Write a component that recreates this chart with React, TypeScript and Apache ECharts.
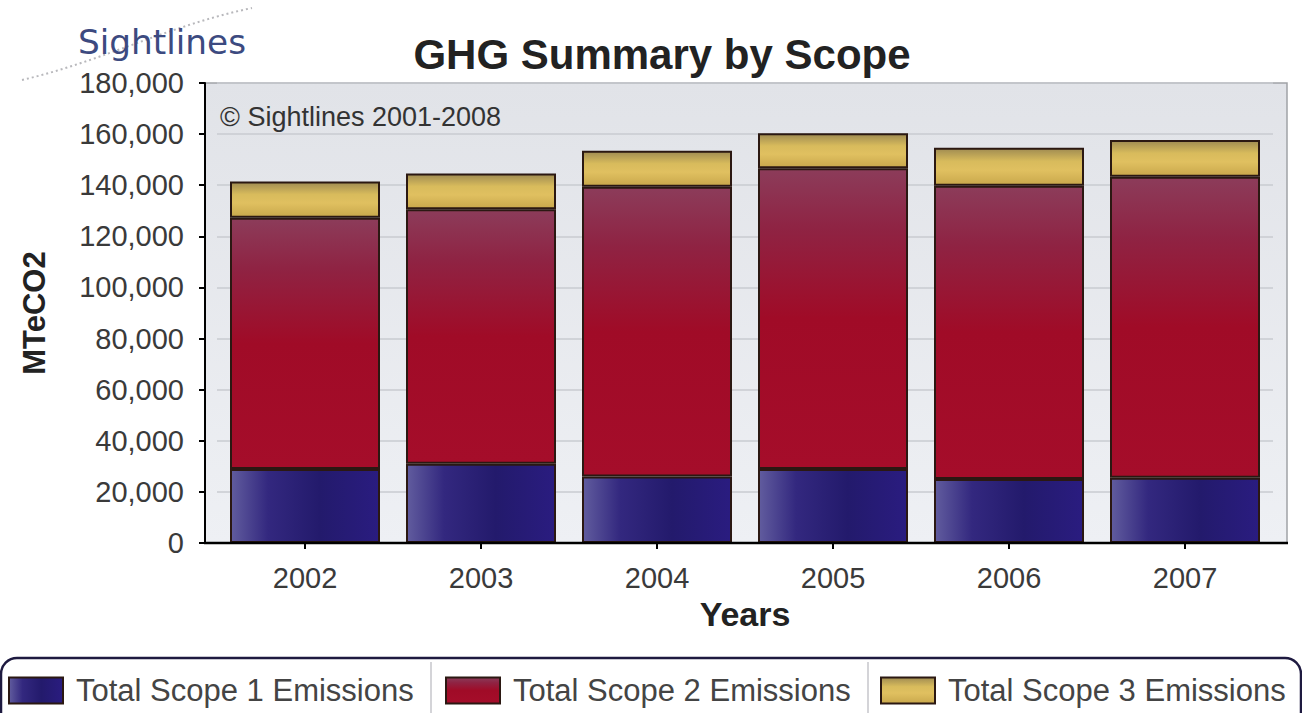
import React, { useEffect, useRef } from "react";
import * as echarts from "echarts";

// Greenhouse gas emissions by scope, metric tonnes eCO2
const years = ["2002", "2003", "2004", "2005", "2006", "2007"];
const scope1 = [29000, 31000, 26000, 29000, 25000, 25500];
const scope2 = [98300, 99600, 113400, 117600, 114800, 117800];
const scope3 = [14200, 14000, 14100, 13700, 14900, 14400];
const seriesNames = [
  "Total Scope 1 Emissions",
  "Total Scope 2 Emissions",
  "Total Scope 3 Emissions",
];

const FONT = "'Liberation Sans', Arial, sans-serif";

const hGrad = (stops: [number, string][]) =>
  new echarts.graphic.LinearGradient(
    0, 0, 1, 0,
    stops.map(([offset, color]) => ({ offset, color }))
  );
const vGrad = (stops: [number, string][]) =>
  new echarts.graphic.LinearGradient(
    0, 0, 0, 1,
    stops.map(([offset, color]) => ({ offset, color }))
  );

export default function App() {
  const ref = useRef<HTMLDivElement>(null);

  useEffect(() => {
    if (!ref.current) return;
    const chart = echarts.init(ref.current, null, { renderer: "svg" });

    const blue = hGrad([
      [0, "#615c9e"],
      [0.25, "#33287f"],
      [0.6, "#231a6c"],
      [1, "#2a1c80"],
    ]);
    const red = vGrad([
      [0, "#8c3c5a"],
      [0.2, "#8f2343"],
      [0.5, "#a00b27"],
      [1, "#a50d2a"],
    ]);
    const gold = vGrad([
      [0, "#a08c52"],
      [0.35, "#d8bb5c"],
      [0.6, "#e0c060"],
      [1, "#c9a84c"],
    ]);

    const border = { borderColor: "#2b1812", borderWidth: 2 };

    chart.setOption({
      animation: false,
      title: {
        text: "GHG Summary by Scope",
        left: 657,
        top: 28,
        textAlign: "center",
        textStyle: {
          fontFamily: FONT,
          fontSize: 42,
          fontWeight: "bold",
          color: "#222",
        },
      },
      grid: { left: 217, right: 29, top: 83, bottom: 170, containLabel: false },
      legend: seriesNames.map((name, i) => ({
        data: [name],
        left: [8, 445, 880][i],
        top: 675,
        padding: 0,
        itemWidth: 54,
        itemHeight: 26,
        icon: "rect",
        textStyle: {
          fontFamily: FONT,
          fontSize: 31,
          color: "#444",
          padding: [0, 0, 0, 8],
        },
        selectedMode: false,
      })),
      xAxis: {
        type: "category",
        data: years,
        axisLine: { show: false },
        axisTick: {
          show: true,
          alignWithLabel: true,
          length: 6,
          lineStyle: { color: "#000", width: 2 },
        },
        axisLabel: {
          fontFamily: FONT,
          fontSize: 29,
          color: "#3a3a3a",
          margin: 20,
        },
        name: "Years",
        nameLocation: "middle",
        nameGap: 52,
        nameTextStyle: {
          fontFamily: FONT,
          fontSize: 34,
          fontWeight: "bold",
          color: "#222",
        },
      },
      yAxis: {
        type: "value",
        min: 0,
        max: 180000,
        interval: 20000,
        offset: 12,
        axisLine: { show: true, lineStyle: { color: "#000", width: 2 } },
        axisTick: { show: true, length: 6, lineStyle: { color: "#000", width: 2 } },
        axisLabel: {
          fontFamily: FONT,
          fontSize: 29,
          color: "#3a3a3a",
          margin: 21,
          formatter: (v: number) => v.toLocaleString("en-US"),
        },
        splitLine: { lineStyle: { color: "#c9cbd0", width: 1.5 } },
        name: "MTeCO2",
        nameLocation: "middle",
        nameGap: 155,
        nameTextStyle: {
          fontFamily: FONT,
          fontSize: 31,
          fontWeight: "bold",
          color: "#222",
        },
      },
      series: [
        {
          name: seriesNames[0],
          type: "bar",
          stack: "total",
          data: scope1,
          barWidth: 150,
          itemStyle: { color: blue, ...border },
        },
        {
          name: seriesNames[1],
          type: "bar",
          stack: "total",
          data: scope2,
          barWidth: 150,
          itemStyle: { color: red, ...border },
        },
        {
          name: seriesNames[2],
          type: "bar",
          stack: "total",
          data: scope3,
          barWidth: 150,
          itemStyle: { color: gold, ...border },
        },
      ],
      graphic: [
        // plot background panel
        {
          type: "rect",
          z: -1,
          shape: { x: 205, y: 83, width: 1082, height: 460 },
          style: {
            fill: vGrad([
              [0, "#e1e3e8"],
              [1, "#eef0f4"],
            ]),
            stroke: "#a0a2a6",
            lineWidth: 1.5,
          },
        },
        // x axis baseline
        {
          type: "line",
          z: 10,
          shape: { x1: 204, y1: 543, x2: 1288, y2: 543 },
          style: { stroke: "#000", lineWidth: 2.5 },
        },
        {
          type: "text",
          z: 5,
          x: 220,
          y: 117,
          style: {
            text: "© Sightlines 2001-2008",
            font: `27px ${FONT}`,
            fill: "#333",
            verticalAlign: "middle",
          },
        },
        // logo
        {
          type: "bezierCurve",
          shape: { x1: 22, y1: 80, cpx1: 100, cpy1: 62, cpx2: 170, cpy2: 25, x2: 252, y2: 8 },
          style: { stroke: "#b8b8bc", lineWidth: 2, lineDash: [2, 3], fill: null },
        },
        {
          type: "text",
          x: 78,
          y: 43,
          scaleX: 1.04,
          style: {
            text: "Sightlines",
            font: "33px 'DejaVu Sans', Verdana, sans-serif",
            fill: "#3c4a80",
            verticalAlign: "middle",
          },
        },
        // legend frame
        {
          type: "rect",
          shape: { x: 1, y: 658, width: 1300, height: 80, r: 16 },
          style: { fill: "#fff", stroke: "#1e1a40", lineWidth: 2.5 },
          z: -2,
        },
        {
          type: "line",
          shape: { x1: 431, y1: 662, x2: 431, y2: 713 },
          style: { stroke: "#d4d4d8", lineWidth: 2 },
        },
        {
          type: "line",
          shape: { x1: 868, y1: 662, x2: 868, y2: 713 },
          style: { stroke: "#d4d4d8", lineWidth: 2 },
        },
      ],
    });

    return () => chart.dispose();
  }, []);

  return (
    <div
      ref={ref}
      style={{ position: "fixed", left: 0, top: 0, width: 1302, height: 713, background: "#fff" }}
    />
  );
}
